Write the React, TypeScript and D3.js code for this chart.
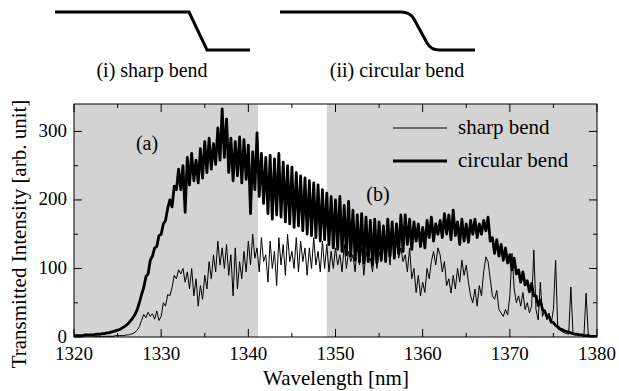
import React from "react";
import * as d3 from "d3";

// ---- data ----
const startWavelength = 1320;
const stepNm = 0.25;

// circular bend spectrum (arb. unit), sampled every 0.25 nm from 1320 to 1380
const circularBend: number[] = [
  2, 2, 2, 2,
  2, 3, 3, 3,
  3, 3, 4, 4,
  4, 5, 5, 6,
  6, 7, 8, 9,
  10, 11, 13, 15,
  17, 20, 24, 28,
  33, 40, 50, 62,
  72, 88, 92, 112,
  118, 130, 132, 148,
  150, 165, 170, 188,
  200, 190, 220, 215,
  245, 215, 250, 182,
  262, 222, 268, 228,
  258, 225, 275, 232,
  285, 240, 290, 245,
  282, 252, 305, 258,
  333, 262, 318, 240,
  290, 228, 285, 235,
  292, 225, 288, 230,
  280, 180, 270, 215,
  298, 205, 268, 195,
  262, 180, 265, 172,
  260, 178, 268, 175,
  255, 168, 250, 165,
  248, 160, 240, 162,
  235, 155, 232, 150,
  228, 148, 225, 145,
  222, 140, 215, 142,
  210, 135, 205, 130,
  200, 128, 205, 125,
  192, 120, 198, 118,
  185, 112, 178, 110,
  180, 108, 175, 110,
  170, 105, 172, 108,
  168, 112, 162, 110,
  172, 118, 168, 115,
  165, 122, 178, 125,
  178, 135, 172, 128,
  168, 140, 165, 132,
  160, 130, 170, 145,
  175, 140, 165, 150,
  170, 145, 180, 150,
  178, 142, 185, 148,
  168, 135, 172, 140,
  165, 138, 170, 150,
  172, 145, 165, 150,
  170, 155, 175, 140,
  145, 122, 142, 118,
  135, 112, 130, 108,
  120, 98, 115, 92,
  98, 80, 95, 76,
  82, 66, 78, 60,
  60, 46, 54, 40,
  38, 30, 30, 22,
  21, 17, 15, 12,
  11, 9, 8, 7,
  6, 5, 4, 4,
  3, 3, 2, 2,
  2, 1, 1, 1,
  0,
];

// sharp bend spectrum (arb. unit), same sampling
const sharpBend: number[] = [
  0, 0, 0, 0,
  0, 0, 0, 0,
  0, 0, 1, 0,
  1, 1, 1, 1,
  1, 1, 1, 2,
  2, 2, 2, 2,
  3, 3, 4, 5,
  7, 10, 15, 24,
  33, 28, 36, 30,
  34, 26, 38, 24,
  30, 50, 45, 62,
  60, 72, 90, 85,
  98, 92, 100, 80,
  95, 70, 100, 60,
  85, 45, 75, 55,
  90, 70, 110, 85,
  120, 95, 140, 105,
  130, 100, 135, 90,
  120, 60, 130, 70,
  110, 85, 125, 95,
  140, 105, 150, 115,
  130, 95, 145, 110,
  120, 80, 140, 100,
  125, 75, 145, 105,
  135, 90, 150, 110,
  125, 100, 145, 95,
  140, 110, 130, 90,
  130, 100, 145, 105,
  125, 95, 140, 100,
  135, 95, 125, 100,
  130, 105, 120, 95,
  135, 100, 125, 110,
  120, 95, 135, 105,
  130, 90, 125, 110,
  115, 95, 130, 100,
  125, 110, 140, 115,
  135, 105, 145, 120,
  140, 115, 130, 110,
  120, 95, 130, 85,
  100, 65, 90, 60,
  80, 65, 100, 85,
  110, 125, 105, 130,
  120, 95, 110, 75,
  85, 64, 90, 70,
  100, 80, 112, 90,
  105, 80, 60, 50,
  70, 45, 75, 60,
  95, 117, 110, 85,
  60, 55, 68, 40,
  35, 30, 40, 32,
  60, 122, 70, 50,
  60, 45, 65, 40,
  50, 35, 45, 127,
  40, 25, 80, 30,
  40, 25, 35, 20,
  40, 112, 12, 10,
  8, 6, 5, 4,
  73, 5, 4, 3,
  2, 3, 2, 64,
  3, 1, 1, 1,
  0,
];

const shadedRanges: [number, number][] = [
  [1320, 1341.1],
  [1349, 1380],
];

const xTickValues = [1320, 1330, 1340, 1350, 1360, 1370, 1380];
const xMinorTickValues = [1325, 1335, 1345, 1355, 1365, 1375];
const yTickValues = [0, 100, 200, 300];
const yMinorTickValues = [50, 150, 250];

const seriesNames = ["sharp bend", "circular bend"];
const panelLabels = ["(a)", "(b)"];
const diagramLabels = ["(i) sharp bend", "(ii) circular bend"];

const FONT = '"Liberation Serif", "DejaVu Serif", serif';

export default function App() {
  const W = 619;
  const H = 391;
  const L = 74, R = 597, T = 104, B = 337;
  const x = d3.scaleLinear().domain([1320, 1380]).range([L, R]);
  const y = d3.scaleLinear().domain([0, 340]).range([B, T]);

  const toPts = (arr: number[]) =>
    arr.map((v, i) => [startWavelength + i * stepNm, v] as [number, number]);
  const line = d3
    .line<[number, number]>()
    .x((d) => x(d[0]))
    .y((d) => y(d[1]));

  const ts = { fontFamily: FONT };
  const majorLen = 8;
  const minorLen = 4;

  return (
    <svg
      width={W}
      height={H}
      style={{ position: "absolute", left: 0, top: 0, background: "#fff" }}
    >
      {/* top schematic diagrams */}
      <path
        d="M55,12 H189 L207,50 H250"
        fill="none"
        stroke="#000"
        strokeWidth={3}
        strokeLinejoin="miter"
      />
      <path
        d="M280,12 H401 Q410,12 414,19 L427,43 Q431,50 439,50 H475"
        fill="none"
        stroke="#000"
        strokeWidth={3}
      />
      <text x={152} y={77} fontSize={20} textAnchor="middle" style={ts}>
        {diagramLabels[0]}
      </text>
      <text x={397} y={77} fontSize={20} textAnchor="middle" style={ts}>
        {diagramLabels[1]}
      </text>

      {/* plot background */}
      <rect x={L} y={T} width={R - L} height={B - T} fill="#fff" />
      {shadedRanges.map(([a, b], i) => (
        <rect
          key={i}
          x={x(a)}
          y={T}
          width={x(b) - x(a)}
          height={B - T}
          fill="#d3d3d3"
        />
      ))}

      {/* data */}
      <clipPath id="plotclip">
        <rect x={L} y={T} width={R - L} height={B - T} />
      </clipPath>
      <g clipPath="url(#plotclip)">
        <path
          d={line(toPts(circularBend)) || ""}
          fill="none"
          stroke="#000"
          strokeWidth={2.8}
          strokeLinejoin="round"
        />
        <path
          d={line(toPts(sharpBend)) || ""}
          fill="none"
          stroke="#000"
          strokeWidth={1}
        />
      </g>

      {/* frame */}
      <rect x={L} y={T} width={R - L} height={B - T} fill="none" stroke="#000" strokeWidth={1} />

      {/* x ticks */}
      {xTickValues.map((v) => (
        <g key={"xt" + v}>
          <line x1={x(v)} x2={x(v)} y1={B} y2={B - majorLen} stroke="#000" />
          <line x1={x(v)} x2={x(v)} y1={T} y2={T + majorLen} stroke="#000" />
          <text x={x(v)} y={360} fontSize={19} textAnchor="middle" style={ts}>
            {v}
          </text>
        </g>
      ))}
      {xMinorTickValues.map((v) => (
        <g key={"xm" + v}>
          <line x1={x(v)} x2={x(v)} y1={B} y2={B - minorLen} stroke="#000" />
          <line x1={x(v)} x2={x(v)} y1={T} y2={T + minorLen} stroke="#000" />
        </g>
      ))}

      {/* y ticks */}
      {yTickValues.map((v) => (
        <g key={"yt" + v}>
          <line x1={L} x2={L + majorLen} y1={y(v)} y2={y(v)} stroke="#000" />
          <line x1={R} x2={R - majorLen} y1={y(v)} y2={y(v)} stroke="#000" />
          <text x={67} y={y(v) + 5.5} fontSize={19} textAnchor="end" style={ts}>
            {v}
          </text>
        </g>
      ))}
      {yMinorTickValues.map((v) => (
        <g key={"ym" + v}>
          <line x1={L} x2={L + minorLen} y1={y(v)} y2={y(v)} stroke="#000" />
          <line x1={R} x2={R - minorLen} y1={y(v)} y2={y(v)} stroke="#000" />
        </g>
      ))}

      {/* axis titles */}
      <text x={336} y={385} fontSize={21} textAnchor="middle" style={ts}>
        Wavelength [nm]
      </text>
      <text
        transform="translate(26,234) rotate(-90)"
        fontSize={21}
        textAnchor="middle"
        style={ts}
      >
        Transmitted Intensity [arb. unit]
      </text>

      {/* panel labels */}
      <text x={147} y={150} fontSize={20} textAnchor="middle" style={ts}>
        {panelLabels[0]}
      </text>
      <text x={378} y={201} fontSize={20} textAnchor="middle" style={ts}>
        {panelLabels[1]}
      </text>

      {/* legend */}
      <line x1={393} x2={447} y1={128} y2={128} stroke="#000" strokeWidth={1} />
      <text x={458} y={134} fontSize={21} style={ts}>
        {seriesNames[0]}
      </text>
      <line x1={393} x2={447} y1={161} y2={161} stroke="#000" strokeWidth={3} />
      <text x={458} y={167} fontSize={21} style={ts}>
        {seriesNames[1]}
      </text>
    </svg>
  );
}
